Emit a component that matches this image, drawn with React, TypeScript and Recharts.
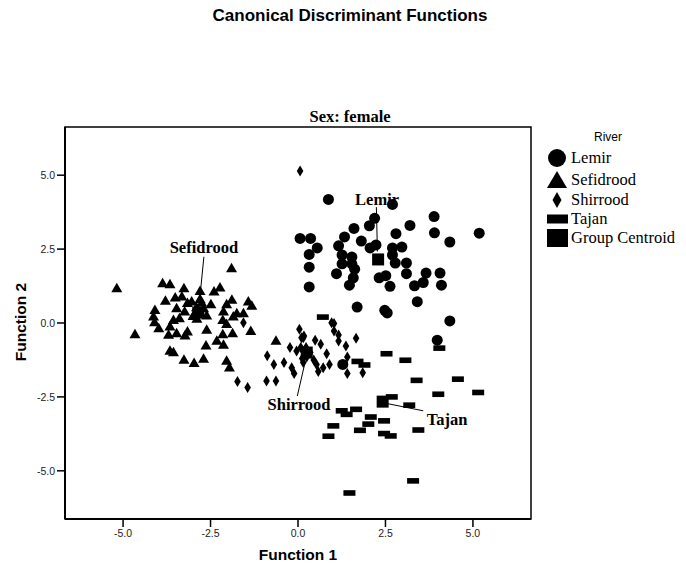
import React from 'react';
import { ScatterChart, Scatter, XAxis, YAxis, ReferenceArea, ReferenceLine } from 'recharts';

// ---- data (Function 1, Function 2) ----
const lemir: [number, number][] = [
  [0.87, 4.18], [2.7, 4.01], [3.89, 3.6], [5.18, 3.04], [2.19, 3.54], [2.04, 3.29], [3.2, 3.3], [1.6, 3.2],
  [2.8, 3.02], [3.9, 3.05], [1.33, 2.91], [4.34, 2.74], [0.06, 2.86], [0.36, 2.86], [1.81, 2.77], [0.55, 2.54],
  [1.16, 2.61], [2.06, 2.54], [2.23, 2.64], [2.7, 2.54], [2.97, 2.57], [0.32, 2.32], [1.26, 2.3], [1.54, 2.23],
  [2.7, 2.3], [1.26, 2.0], [1.54, 2.0], [2.78, 2.03], [3.1, 2.03], [0.32, 1.89], [1.62, 1.82], [1.1, 1.67],
  [3.1, 1.67], [3.66, 1.69], [4.06, 1.69], [1.58, 1.53], [2.32, 1.53], [2.51, 1.6], [2.63, 1.24], [1.47, 1.28],
  [3.33, 1.26], [3.58, 1.37], [4.1, 1.28], [0.32, 1.22], [3.41, 0.72], [1.69, 0.54], [2.48, 0.43], [2.55, 0.34],
  [4.34, 0.07], [3.98, -0.58], [1.28, -1.4],
];
const sefidrood: [number, number][] = [
  [-1.9, 1.87], [-5.18, 1.19], [-3.87, 1.36], [-3.66, 1.33], [-3.26, 1.19], [-2.8, 1.1], [-2.4, 1.08], [-2.23, 1.22],
  [-3.79, 0.77], [-3.51, 0.88], [-3.32, 0.91], [-3.16, 0.69], [-3.04, 0.74], [-2.8, 0.83], [-2.49, 0.65], [-2.04, 0.65],
  [-1.89, 0.8], [-1.42, 0.74], [-1.32, 0.6], [-4.09, 0.46], [-3.47, 0.52], [-3.24, 0.41], [-2.94, 0.35], [-2.7, 0.52],
  [-2.61, 0.27], [-2.13, 0.41], [-1.75, 0.35], [-1.56, 0.35], [-4.13, 0.24], [-3.56, 0.12], [-3.39, 0.18], [-2.89, 0.16],
  [-2.15, 0.12], [-1.85, 0.24], [-4.1, 0.04], [-3.66, -0.1], [-3.98, -0.16], [-2.61, -0.21], [-2.04, -0.02], [-1.35, -0.25],
  [-4.66, -0.36], [-3.7, -0.38], [-3.47, -0.33], [-3.23, -0.41], [-2.15, -0.36], [-1.87, -0.33], [-2.32, -0.58], [-3.16, -0.27],
  [-3.66, -0.92], [-3.56, -0.97], [-2.63, -0.74], [-2.13, -0.72], [-3.26, -1.23], [-2.97, -1.34], [-2.7, -1.19], [-2.04, -1.26],
  [-1.96, -1.49], [-0.63, -0.58], [-2.9, 0.55], [-2.75, 0.7], [-3.0, 0.25],
];
const shirrood: [number, number][] = [
  [0.06, 5.14], [-1.56, 0.01], [-1.73, -1.98], [-1.44, -2.18], [0.96, 0.01], [1.03, -0.02], [1.03, -0.27], [1.16, -0.41],
  [1.16, -0.61], [1.66, -0.52], [0.04, -0.21], [0.1, -0.5], [0.17, -0.44], [-0.23, -0.83], [0.15, -0.5], [0.49, -0.58],
  [0.65, -0.72], [1.37, -0.78], [0.08, -0.83], [0.23, -0.83], [-0.04, -0.95], [0.82, -1.04], [-0.88, -1.11], [-0.4, -1.34],
  [-0.69, -1.4], [-0.18, -1.51], [-0.11, -1.71], [0.15, -1.34], [0.25, -1.15], [0.53, -1.4], [0.58, -1.64], [0.72, -1.51],
  [0.9, -1.4], [-0.9, -1.96], [-0.63, -1.96], [1.41, -1.15], [1.41, -1.71], [1.85, -1.68], [0.35, -1.0], [0.12, -1.2],
  [0.45, -1.25],
];
const tajan: [number, number][] = [
  [0.71, 0.2], [2.53, -1.04], [3.07, -1.26], [4.04, -0.85], [1.7, -1.3], [1.9, -1.42], [3.39, -1.94], [4.57, -1.9],
  [4.01, -2.41], [5.15, -2.35], [2.68, -2.5], [3.18, -2.78], [1.66, -2.92], [1.25, -2.97], [1.39, -3.09], [2.08, -3.18],
  [2.46, -3.31], [2.01, -3.42], [1.01, -3.48], [1.77, -3.63], [3.44, -3.62], [2.46, -3.74], [2.65, -3.82], [0.87, -3.83],
  [3.29, -5.34], [1.47, -5.75],
];
const centroids: [number, number][] = [[2.29, 2.15], [-2.85, 0.35], [0.25, -1.0], [2.42, -2.66]];

const groupNames = ['Lemir', 'Sefidrood', 'Shirrood', 'Tajan'];
const labelPos: [number, number][] = [[2.26, 4.19], [-2.69, 2.54], [0.03, -2.77], [4.26, -3.28]];
const leaderFrom: [number, number][] = [[2.24, 3.92], [-2.69, 2.24], [-0.02, -2.47], [2.57, -2.73]];
const leaderTo: [number, number][] = [[2.27, 2.42], [-2.78, 1.16], [0.2, -1.34], [3.58, -2.97]];

const xTicks = [-5, -2.5, 0, 2.5, 5];
const yTicks = [-5, -2.5, 0, 2.5, 5];
const xDomain: [number, number] = [-6.66, 6.66];
const yDomain: [number, number] = [-6.63, 6.63];

const legendItems = ['Lemir', 'Sefidrood', 'Shirrood', 'Tajan', 'Group Centroid'];

const pts = (a: [number, number][]) => a.map(([x, y]) => ({ x, y }));
const labelData = groupNames.map((name, i) => ({ x: labelPos[i][0], y: labelPos[i][1], name }));

const SERIF = "'Liberation Serif', 'Times New Roman', serif";
const SANS = "'Liberation Sans', Arial, sans-serif";

const CircleShape = (p: any) => <circle cx={p.cx} cy={p.cy} r={5.5} fill="#000" />;
const TriShape = (p: any) => (
  <polygon points={`${p.cx},${p.cy - 5} ${p.cx + 5.5},${p.cy + 4.5} ${p.cx - 5.5},${p.cy + 4.5}`} fill="#000" />
);
const DiaShape = (p: any) => (
  <polygon points={`${p.cx},${p.cy - 5.5} ${p.cx + 3.3},${p.cy} ${p.cx},${p.cy + 5.5} ${p.cx - 3.3},${p.cy}`} fill="#000" />
);
const BarShape = (p: any) => <rect x={p.cx - 6} y={p.cy - 2.8} width={12} height={5.6} fill="#000" />;
const SqShape = (p: any) => <rect x={p.cx - 6} y={p.cy - 6} width={12} height={12} fill="#000" />;
const LabelShape = (p: any) => (
  <text x={p.cx} y={p.cy} textAnchor="middle" dominantBaseline="central" fontFamily={SERIF} fontWeight="bold" fontSize={16.5} fill="#000">
    {p.payload.name}
  </text>
);

const legendMarker = (i: number) => {
  switch (i) {
    case 0: return <circle cx={10} cy={10} r={9} fill="#000" />;
    case 1: return <polygon points={`10,1 20,18 0,18`} fill="#000" />;
    case 2: return <polygon points={`10,2 14.5,10 10,18 5.5,10`} fill="#000" />;
    case 3: return <rect x={0} y={5.5} width={21} height={9} fill="#000" />;
    default: return <rect x={0} y={1} width={21} height={18} fill="#000" />;
  }
};

const rowTops = [148, 170, 190, 209, 228];

export default function App() {
  return (
    <div style={{ position: 'absolute', left: 0, top: 0, width: 686, height: 565, background: '#fff' }}>
      <div style={{ position: 'absolute', left: 0, width: 700, top: 6, textAlign: 'center', fontFamily: SANS, fontWeight: 'bold', fontSize: 17, color: '#000' }}>
        Canonical Discriminant Functions
      </div>
      <div style={{ position: 'absolute', left: 250, width: 200, top: 107, textAlign: 'center', fontFamily: SERIF, fontWeight: 'bold', fontSize: 16.5, color: '#000' }}>
        Sex: female
      </div>
      <div style={{ position: 'absolute', left: 198, width: 200, top: 546, textAlign: 'center', fontFamily: SANS, fontWeight: 'bold', fontSize: 15.5, color: '#000' }}>
        Function 1
      </div>
      <div style={{ position: 'absolute', left: 21, top: 322, transform: 'translate(-50%, -50%) rotate(-90deg)', fontFamily: SANS, fontWeight: 'bold', fontSize: 15.5, color: '#000', whiteSpace: 'nowrap' }}>
        Function 2
      </div>
      <div style={{ position: 'absolute', left: 588, width: 40, top: 130, textAlign: 'center', fontFamily: SANS, fontSize: 12, color: '#000' }}>River</div>
      {legendItems.map((name, i) => (
        <div key={name} style={{ position: 'absolute', left: 547, top: rowTops[i], height: 20, display: 'flex', alignItems: 'center' }}>
          <svg width={21} height={20} style={{ display: 'block' }}>{legendMarker(i)}</svg>
          <span style={{ fontFamily: SERIF, fontSize: 16.5, marginLeft: 3, color: '#000', whiteSpace: 'nowrap' }}>{name}</span>
        </div>
      ))}
      <ScatterChart width={686} height={565} margin={{ top: 127, right: 155, bottom: 16, left: 15 }} style={{ position: 'absolute', left: 0, top: 0 }}>
        <XAxis type="number" dataKey="x" domain={xDomain} ticks={xTicks} allowDataOverflow height={30}
          tickFormatter={(v: number) => v.toFixed(1)} tickSize={8} tickMargin={3}
          axisLine={{ stroke: '#000', strokeWidth: 2 }} tickLine={{ stroke: '#000', strokeWidth: 1.5 }}
          tick={{ fontFamily: SANS, fontSize: 10.5, fill: '#222' }} />
        <YAxis type="number" dataKey="y" domain={yDomain} ticks={yTicks} allowDataOverflow width={50}
          tickFormatter={(v: number) => v.toFixed(1)} tickSize={8} tickMargin={2}
          axisLine={{ stroke: '#000', strokeWidth: 2 }} tickLine={{ stroke: '#000', strokeWidth: 1.5 }}
          tick={{ fontFamily: SANS, fontSize: 10.5, fill: '#222' }} />
        <ReferenceArea x1={xDomain[0]} x2={xDomain[1]} y1={yDomain[0]} y2={yDomain[1]} fill="none" fillOpacity={0}
          stroke="#000" strokeWidth={1.5} ifOverflow="visible" />
        {leaderFrom.map((f, i) => (
          <ReferenceLine key={i} segment={[{ x: f[0], y: f[1] }, { x: leaderTo[i][0], y: leaderTo[i][1] }]} stroke="#000" strokeWidth={1} ifOverflow="visible" />
        ))}
        <Scatter name="Group Centroid" data={pts(centroids)} shape={SqShape} isAnimationActive={false} />
        <Scatter name="Lemir" data={pts(lemir)} shape={CircleShape} isAnimationActive={false} />
        <Scatter name="Sefidrood" data={pts(sefidrood)} shape={TriShape} isAnimationActive={false} />
        <Scatter name="Shirrood" data={pts(shirrood)} shape={DiaShape} isAnimationActive={false} />
        <Scatter name="Tajan" data={pts(tajan)} shape={BarShape} isAnimationActive={false} />
        <Scatter name="labels" data={labelData} shape={LabelShape} isAnimationActive={false} />
      </ScatterChart>
    </div>
  );
}
